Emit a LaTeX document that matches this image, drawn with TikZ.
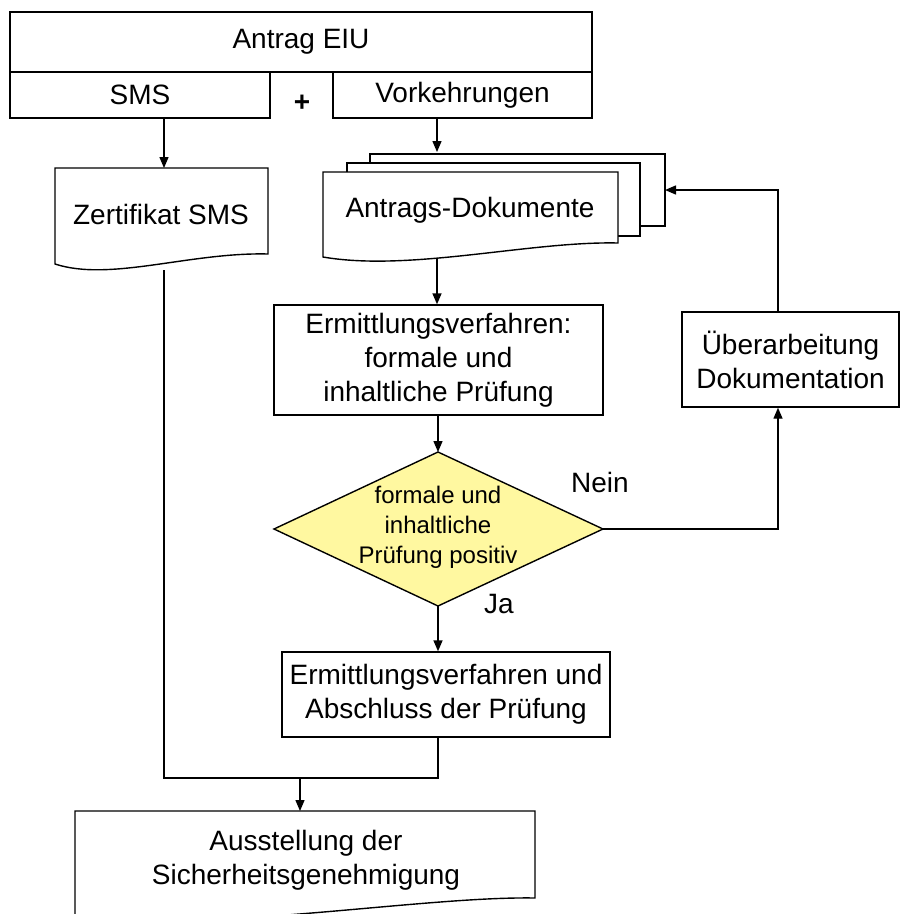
\documentclass[tikz,border=0pt]{standalone}
\usepackage{fontspec}
\setmainfont{Liberation Sans}
\usetikzlibrary{arrows.meta,shapes.geometric}
\definecolor{dyellow}{RGB}{255,248,160}
\begin{document}
\begin{tikzpicture}[x=1pt,y=-1pt, line width=1.4pt,
  box/.style={draw, rectangle, fill=white, inner sep=0pt, align=center, font=\fontsize{28}{34}\selectfont},
  lbl/.style={inner sep=0pt, align=center, font=\fontsize{28}{34}\selectfont},
  small/.style={inner sep=0pt, align=center, font=\fontsize{24}{30}\selectfont},
  arr/.style={-{Triangle[length=11pt,width=9pt]}},
  sheet/.style={draw, fill=white}
]
\useasboundingbox (0,0) rectangle (901,914);

% top boxes
\node[box, minimum width=582pt, minimum height=60pt] (eiu) at (301,42) {Antrag EIU};
\node[box, minimum width=260pt, minimum height=46pt] (sms) at (140,95) {SMS};
\node[box, minimum width=259pt, minimum height=46pt] (vork) at (462.5,95) {Vorkehrungen};
\node[lbl, font=\fontsize{28}{30}\selectfont\bfseries] (plus) at (302,103) {+};

% Zertifikat SMS document
\draw[sheet] (55,168) -- (268,168) -- (268,254) .. controls (190,252) and (110,282) .. (55,264) -- cycle;
\node[lbl] (zert) at (161,214) {Zertifikat SMS};
\coordinate (ztop) at (164,168);
\coordinate (zbot) at (164,270);

% Antrags-Dokumente stack
\draw[sheet] (370,154) rectangle (665,226);
\draw[sheet] (347,163) rectangle (640,236);
\draw[sheet] (323,172) -- (618,172) -- (618,243) .. controls (530,241) and (410,272) .. (323,257) -- cycle;
\node[lbl] (doc) at (470,210) {Antrags-Dokumente};
\coordinate (stop) at (437,152);
\coordinate (sbot) at (437,259);
\coordinate (sin) at (665,190);

% process
\node[box, minimum width=329pt, minimum height=110pt] (erm) at (438.5,360)
  {Ermittlungsverfahren:\\formale und\\inhaltliche Prüfung};

% decision diamond
\coordinate (dtop) at (438,452);
\coordinate (dbot) at (438,606);
\coordinate (dleft) at (274,529);
\coordinate (dright) at (603,529);
\draw[fill=dyellow] (dtop) -- (dright) -- (dbot) -- (dleft) -- cycle;
\node[small] (dia) at (438,527) {formale und\\inhaltliche\\Prüfung positiv};

\node[lbl] (nein) at (600,482) {Nein};
\node[lbl] (ja) at (499,604) {Ja};
\node[box, minimum width=217pt, minimum height=95pt] (ueb) at (790.5,359.5)
  {Überarbeitung\\Dokumentation};
\node[box, minimum width=328pt, minimum height=85pt] (abs) at (446,694.5)
  {Ermittlungsverfahren und\\Abschluss der Prüfung};

% Ausstellung document
\draw[sheet] (75,811) -- (535,811) -- (535,898) .. controls (420,896) and (200,935) .. (75,915) -- cycle;
\node[lbl] (aus) at (306,860) {Ausstellung der\\Sicherheitsgenehmigung};
\coordinate (atop) at (300,811);

% connectors
\draw[arr] (sms.south -| ztop) -- (ztop);
\draw[arr] (vork.south -| stop) -- (stop);
\draw[arr] (sbot) -- (erm.north -| sbot);
\draw[arr] (erm.south -| dtop) -- (dtop);
\draw[arr] (dbot) -- (abs.north -| dbot);
\coordinate (ncol) at (778,529);
\draw[arr] (dright) -- (ncol) -- (ueb.south -| ncol);
\draw[arr] (ueb.north -| ncol) |- (sin);
\coordinate (mleft) at (164,778);
\coordinate (mright) at (438,778);
\coordinate (merge) at (300,778);
\draw (zbot) -- (mleft) -- (mright) -- (abs.south -| mright);
\draw[arr] (merge) -- (atop);
\end{tikzpicture}
\end{document}
